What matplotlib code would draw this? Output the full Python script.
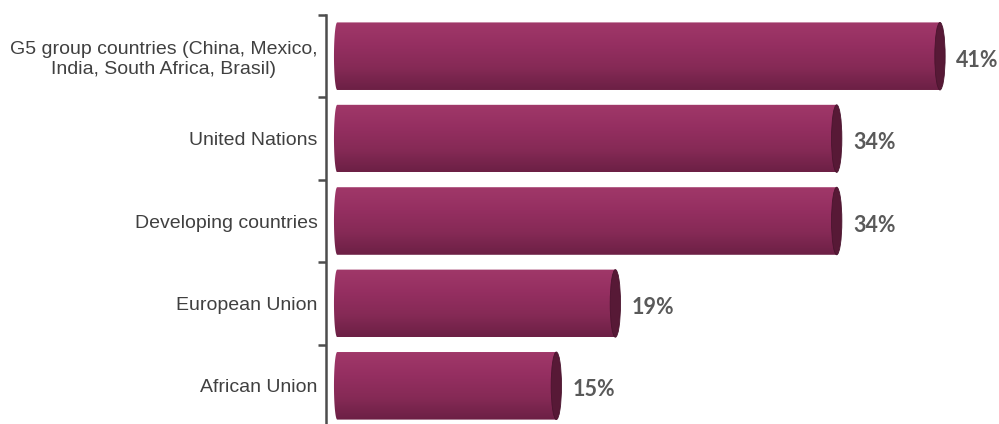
import numpy as np
import matplotlib
matplotlib.use("Agg")
import matplotlib.pyplot as plt
from matplotlib.colors import LinearSegmentedColormap
from matplotlib.patches import Ellipse, PathPatch
from matplotlib.path import Path

categories = [
    "G5 group countries (China, Mexico,\nIndia, South Africa, Brasil)",
    "United Nations",
    "Developing countries",
    "European Union",
    "African Union",
]
values = [41, 34, 34, 19, 15]
value_labels = ["41%", "34%", "34%", "19%", "15%"]

bar_h = 0.82
cap_w = 0.7  # width of the end ellipse in data units

fig = plt.figure(figsize=(9.99, 4.24), dpi=100)
ax = fig.add_axes([326 / 999, -3 / 424, 673 / 999, 412 / 424])
ax.set_xlim(-0.61, 45.0)
ax.set_ylim(len(categories) - 0.5, -0.5)

# vertical shading of the cylinder
shade = LinearSegmentedColormap.from_list(
    "shade", ["#a03869", "#952f61", "#862a56", "#6c2045"])
grad = np.linspace(0, 1, 64).reshape(-1, 1)

t = np.linspace(np.pi / 2, 3 * np.pi / 2, 40)
for i, v in enumerate(values):
    top, bot = i - bar_h / 2, i + bar_h / 2
    # body outline: flat top/bottom, straight right edge, rounded left end
    lx = 0.15 + 0.22 * np.cos(t)
    ly = i - (bar_h / 2) * np.sin(t)
    verts = [(v, top)] + list(zip(lx, ly)) + [(v, bot), (v, top)]
    clip = PathPatch(Path(verts), facecolor="none", edgecolor="none")
    ax.add_patch(clip)
    im = ax.imshow(grad, cmap=shade, aspect="auto",
                   extent=[-0.3, v, bot, top], zorder=2)
    im.set_clip_path(clip)
    cap = Ellipse((v, i), cap_w, bar_h, facecolor="#571936",
                  edgecolor="#4a142e", linewidth=0.6, zorder=3)
    ax.add_patch(cap)
    ax.text(v + cap_w / 2 + 0.75, i + 0.05, value_labels[i],
            ha="left", va="center", fontsize=15.5, fontweight="bold",
            color="#595959", family="Lato")

for s in ["top", "right", "bottom"]:
    ax.spines[s].set_visible(False)
ax.spines["left"].set_color("#4d4d4d")
ax.spines["left"].set_linewidth(1.8)
ax.set_xticks([])

ax.set_yticks(np.arange(-0.5, len(categories)), labels=[])
ax.set_yticks(np.arange(len(categories)), labels=categories, minor=True)
ax.tick_params(axis="y", which="major", length=6, width=1.8,
               color="#4d4d4d", direction="out")
ax.tick_params(axis="y", which="minor", length=0, pad=6,
               labelsize=14, labelcolor="#404040")
for lab in ax.get_yticklabels(minor=True):
    lab.set_family("Liberation Sans")
    lab.set_multialignment("center")
    lab.set_linespacing(1.25)

fig.savefig("out.png", dpi=100)
